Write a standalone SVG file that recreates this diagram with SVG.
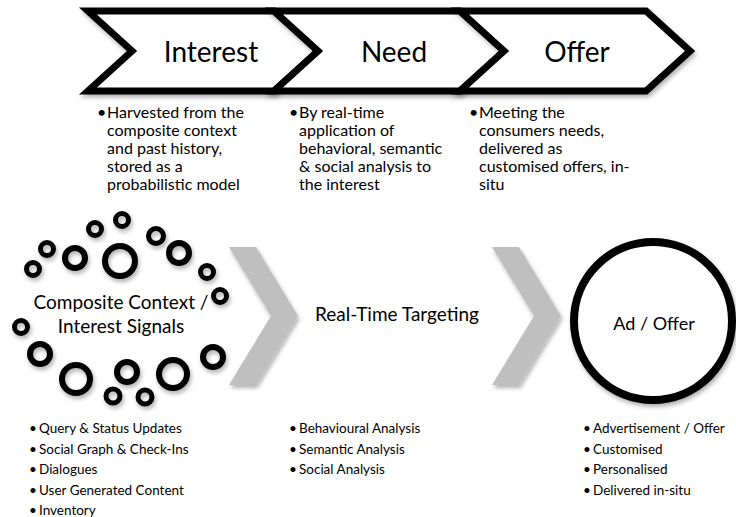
<svg xmlns="http://www.w3.org/2000/svg" width="736" height="517" viewBox="0 0 736 517">
<defs>
<filter id="sh" x="-20%" y="-20%" width="140%" height="150%">
<feDropShadow dx="1.5" dy="3" stdDeviation="2" flood-color="#000" flood-opacity="0.3"/>
</filter>
<style>
text{font-family:Lato,"Liberation Sans",Arial,sans-serif;fill:#000}
.chev{fill:#fff;stroke:#000;stroke-width:7;stroke-linejoin:miter}
.gchev{fill:#bfbfbf}
.ring{fill:none;stroke:#000}
.h{font-size:28px;text-anchor:middle}
.m{font-size:16px}
.b{font-size:13.5px}
.lbl{font-size:19px;text-anchor:middle}
</style>
</defs>
<rect width="736" height="517" fill="#fff"/>

<g id="stage-interest" filter="url(#sh)">
<polygon class="chev" points="88,11 274,11 318,51 274,91 88,91 132,51"/>
</g>
<g id="stage-need" filter="url(#sh)">
<polygon class="chev" points="274,11 460,11 504,51 460,91 274,91 318,51"/>
</g>
<g id="stage-offer" filter="url(#sh)">
<polygon class="chev" points="460,11 646,11 690,51 646,91 460,91 504,51"/>
</g>
<g id="stage-labels">
<text class="h" x="211" y="62">Interest</text>
<text class="h" x="394" y="62">Need</text>
<text class="h" x="577" y="62">Offer</text>
</g>

<g id="desc-interest">
<text class="m"><tspan x="97" y="117.5">•</tspan><tspan x="107" y="117.5">Harvested from the</tspan><tspan x="107" y="135.5">composite context</tspan><tspan x="107" y="153.5">and past history,</tspan><tspan x="107" y="171.5">stored as a</tspan><tspan x="107" y="189.5">probabilistic model</tspan></text>
</g>
<g id="desc-need">
<text class="m"><tspan x="289" y="117.5">•</tspan><tspan x="299" y="117.5">By real-time</tspan><tspan x="299" y="135.5">application of</tspan><tspan x="299" y="153.5">behavioral, semantic</tspan><tspan x="299" y="171.5">&amp; social analysis to</tspan><tspan x="299" y="189.5">the interest</tspan></text>
</g>
<g id="desc-offer">
<text class="m"><tspan x="469" y="117.5">•</tspan><tspan x="479" y="117.5">Meeting the</tspan><tspan x="479" y="135.5">consumers needs,</tspan><tspan x="479" y="153.5">delivered as</tspan><tspan x="479" y="171.5">customised offers, in-</tspan><tspan x="479" y="189.5">situ</tspan></text>
</g>

<g id="composite-context">
<g filter="url(#sh)">
<circle class="ring" cx="33" cy="269" r="6.5" stroke-width="5"/>
<circle class="ring" cx="47" cy="249" r="6.5" stroke-width="5"/>
<circle class="ring" cx="75" cy="258" r="10" stroke-width="6"/>
<circle class="ring" cx="120" cy="261" r="15" stroke-width="6"/>
<circle class="ring" cx="95" cy="229" r="6.5" stroke-width="5"/>
<circle class="ring" cx="122" cy="220" r="6.5" stroke-width="5"/>
<circle class="ring" cx="156" cy="236" r="7.5" stroke-width="5"/>
<circle class="ring" cx="179" cy="253" r="10" stroke-width="6"/>
<circle class="ring" cx="207" cy="272" r="6.5" stroke-width="5"/>
<circle class="ring" cx="220" cy="296" r="6.5" stroke-width="5"/>
<circle class="ring" cx="21" cy="327" r="6.5" stroke-width="5"/>
<circle class="ring" cx="40" cy="354" r="10" stroke-width="6"/>
<circle class="ring" cx="76" cy="379" r="14" stroke-width="6"/>
<circle class="ring" cx="127" cy="372" r="10" stroke-width="6"/>
<circle class="ring" cx="113" cy="396" r="7" stroke-width="5"/>
<circle class="ring" cx="145" cy="397" r="7" stroke-width="5"/>
<circle class="ring" cx="173" cy="374" r="14" stroke-width="6"/>
<circle class="ring" cx="213" cy="357" r="10" stroke-width="6"/>
</g>
<text class="lbl"><tspan x="121" y="309">Composite Context /</tspan><tspan x="121" y="333">Interest Signals</tspan></text>
</g>

<g id="connectors" filter="url(#sh)">
<polygon class="gchev" points="229,247 256,247 298,316 256,385 229,385 271,316"/>
<polygon class="gchev" points="492,247 519,247 561,316 519,385 492,385 534,316"/>
</g>

<g id="real-time-targeting">
<text class="lbl" x="397" y="321">Real-Time Targeting</text>
</g>

<g id="ad-offer">
<circle cx="653" cy="321" r="79" fill="#fff" stroke="#000" stroke-width="8" filter="url(#sh)"/>
<text class="lbl" x="654" y="330" style="font-size:18px">Ad / Offer</text>
</g>

<g id="list-signals">
<text class="b"><tspan x="29" y="433">•</tspan><tspan x="39" y="433">Query &amp; Status Updates</tspan><tspan x="29" y="453.5">•</tspan><tspan x="39" y="453.5">Social Graph &amp; Check-Ins</tspan><tspan x="29" y="474">•</tspan><tspan x="39" y="474">Dialogues</tspan><tspan x="29" y="494.5">•</tspan><tspan x="39" y="494.5">User Generated Content</tspan><tspan x="29" y="515">•</tspan><tspan x="39" y="515">Inventory</tspan></text>
</g>
<g id="list-targeting">
<text class="b"><tspan x="289" y="433">•</tspan><tspan x="299" y="433">Behavioural Analysis</tspan><tspan x="289" y="453.5">•</tspan><tspan x="299" y="453.5">Semantic Analysis</tspan><tspan x="289" y="474">•</tspan><tspan x="299" y="474">Social Analysis</tspan></text>
</g>
<g id="list-offer">
<text class="b"><tspan x="583" y="433">•</tspan><tspan x="593" y="433">Advertisement / Offer</tspan><tspan x="583" y="453.5">•</tspan><tspan x="593" y="453.5">Customised</tspan><tspan x="583" y="474">•</tspan><tspan x="593" y="474">Personalised</tspan><tspan x="583" y="494.5">•</tspan><tspan x="593" y="494.5">Delivered in-situ</tspan></text>
</g>
</svg>
